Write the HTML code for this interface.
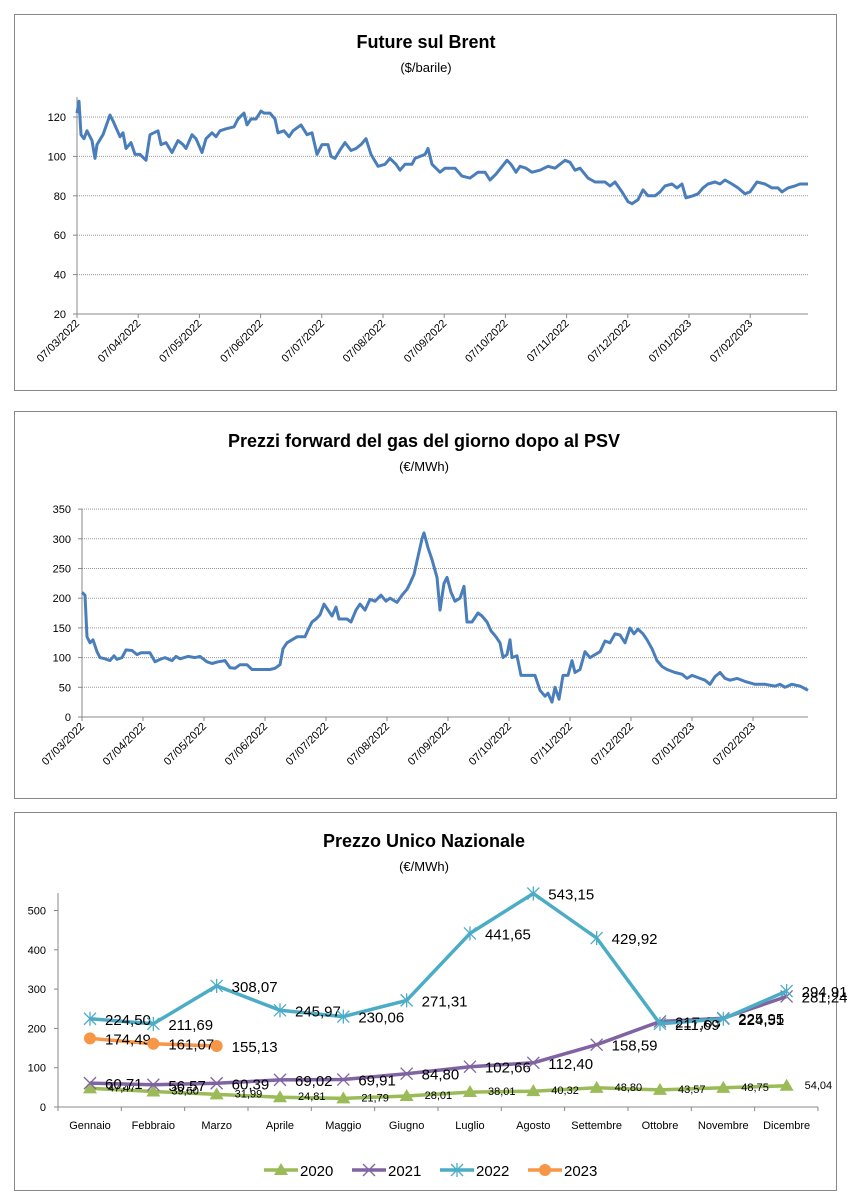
<!DOCTYPE html>
<html><head><meta charset="utf-8"><style>
body{margin:0;background:#fff;width:853px;height:1199px;overflow:hidden;font-family:"Liberation Sans",sans-serif}
svg{position:absolute;left:0;top:0}
</style></head><body>
<svg id="s" width="853" height="1199" font-family="Liberation Sans, sans-serif">
<rect x="14.5" y="14.5" width="822" height="376" fill="#fff" stroke="#888"/>
<rect x="14.5" y="411.5" width="822" height="387" fill="#fff" stroke="#888"/>
<rect x="14.5" y="812.5" width="822" height="378" fill="#fff" stroke="#888"/>
<text x="426" y="48" text-anchor="middle" font-size="18" font-weight="bold">Future sul Brent</text>
<text x="426" y="72" text-anchor="middle" font-size="13">($/barile)</text>
<text x="424" y="447" text-anchor="middle" font-size="18" font-weight="bold">Prezzi forward del gas del giorno dopo  al PSV</text>
<text x="424" y="471" text-anchor="middle" font-size="13">(€/MWh)</text>
<text x="424" y="847" text-anchor="middle" font-size="18" font-weight="bold">Prezzo Unico Nazionale</text>
<text x="424" y="871" text-anchor="middle" font-size="13">(€/MWh)</text>
<g id="g"></g>
</svg>
<script>
var g=document.getElementById('g'),h='';
function L(x1,y1,x2,y2,c,w,d){h+='<line x1="'+x1+'" y1="'+y1+'" x2="'+x2+'" y2="'+y2+'" stroke="'+c+'" stroke-width="'+(w||1)+'"'+(d?' stroke-dasharray="'+d+'"':'')+'/>';}
function T(x,y,t,s,a,r){h+='<text x="'+x+'" y="'+y+'" font-size="'+s+'" text-anchor="'+(a||'start')+'"'+(r?' transform="rotate(-45 '+x+' '+y+')"':'')+'>'+t+'</text>';}
function P(pts,c,w){h+='<polyline fill="none" stroke="'+c+'" stroke-width="'+w+'" stroke-linejoin="round" points="'+pts.join(' ')+'"/>';}
// Chart 1
var y1=function(v){return 314-(v-20)*1.97};
for(var v=20;v<=120;v+=20){if(v>20)L(77,y1(v),808,y1(v),'#999',1,'1 1');T(66,y1(v)+4,v,11,'end');L(73,y1(v),77,y1(v),'#888');}
L(77,97,77,314,'#888');L(77,314,808,314,'#888');
var m1=['07/03/2022','07/04/2022','07/05/2022','07/06/2022','07/07/2022','07/08/2022','07/09/2022','07/10/2022','07/11/2022','07/12/2022','07/01/2023','07/02/2023'];
for(var i=0;i<12;i++){var x=77+i*61.2;L(x,314,x,318,'#888');T(x+3,324,m1[i],11,'end',1);}
var b=[77,122,79,128,81,111,84,109,87,113,92,108,95,99,97,106,103,111,110,121,113,118,120,110,123,112,126,104,131,107,135,101,140,101,146,98,150,111,158,113,161,106,166,107,172,102,178,108,183,106,186,104,192,111,196,109,202,102,206,109,212,112,216,110,220,113,226,114,234,115,238,119,244,122,247,116,251,119,256,119,261,123,264,122,270,122,275,119,278,112,284,113,289,110,293,113,301,116,307,111,312,112,317,101,322,106,328,106,331,100,335,99,341,104,345,107,351,103,356,104,361,106,366,109,371,101,378,95,385,96,390,99,396,96,400,93,405,96,412,96,415,99,420,100,425,101,428,104,432,96,440,92,445,94,455,94,462,90,470,89,478,92,485,92,490,88,496,91,507,98,511,96,516,92,520,95,526,94,532,92,540,93,548,95,555,94,565,98,570,97,575,93,580,94,588,89,595,87,605,87,610,85,615,87,622,82,628,77,632,76,638,78,643,83,648,80,655,80,660,82,665,85,672,86,677,84,682,86,686,79,693,80,698,81,703,84,708,86,715,87,720,86,725,88,732,86,738,84,745,81,750,82,757,87,765,86,772,84,778,84,782,82,788,84,795,85,800,86,808,86];
var p=[];for(i=0;i<b.length;i+=2)p.push(b[i]+','+y1(b[i+1]).toFixed(1));P(p,'#4a7ebb',3);
// Chart 2
var y2=function(v){return 717-v*0.594};
for(v=0;v<=350;v+=50){if(v>0)L(82,y2(v),808,y2(v),'#999',1,'1 1');T(71,y2(v)+4,v,11,'end');L(78,y2(v),82,y2(v),'#888');}
L(82,509,82,717,'#888');L(82,717,808,717,'#888');
for(i=0;i<12;i++){x=82+i*61;L(x,717,x,721,'#888');T(x+3,727,m1[i],11,'end',1);}
var gs=[82,210,85,205,87,135,90,125,93,130,97,110,100,100,105,98,110,95,114,103,117,97,122,100,126,113,132,112,137,105,141,108,150,108,155,93,160,97,165,100,172,95,176,102,180,98,188,102,195,100,200,102,207,93,212,90,218,93,225,95,230,83,235,82,240,88,247,88,252,80,262,80,270,80,275,82,280,88,283,115,287,125,292,130,297,135,305,135,309,150,312,160,316,165,320,172,324,190,328,180,332,170,336,185,339,165,347,165,351,160,356,180,360,190,365,180,370,198,375,195,381,205,386,195,390,200,397,193,402,205,407,215,410,225,414,240,418,270,422,300,424,310,428,285,432,265,437,235,440,180,444,225,447,235,451,210,455,195,460,200,464,220,467,160,472,160,478,175,482,170,487,160,491,145,496,135,500,125,503,100,507,105,510,130,512,100,517,103,521,70,527,70,535,70,540,45,545,35,548,40,552,25,555,50,559,30,563,70,568,70,572,95,575,75,580,80,585,110,590,100,595,105,600,110,605,128,610,125,615,140,620,138,625,125,630,150,634,140,638,148,643,140,647,130,652,115,657,95,662,85,667,80,675,75,682,72,687,65,692,70,700,65,705,62,710,55,715,68,720,75,725,65,730,62,737,65,745,60,755,55,765,55,775,52,780,55,785,50,792,55,800,52,808,45];
p=[];for(i=0;i<gs.length;i+=2)p.push(gs[i]+','+y2(gs[i+1]).toFixed(1));P(p,'#4a7ebb',3);
// Chart 3
var y3=function(v){return 1107-v*0.393};
for(v=0;v<=500;v+=100){T(46,y3(v)+4,v,11,'end');L(54,y3(v),58,y3(v),'#888');}
L(58,893,58,1107,'#888');L(58,1107,818,1107,'#888');
var mo=['Gennaio','Febbraio','Marzo','Aprile','Maggio','Giugno','Luglio','Agosto','Settembre','Ottobre','Novembre','Dicembre'];
for(i=0;i<=12;i++)L(58+i*63.33,1107,58+i*63.33,1111,'#888');
for(i=0;i<12;i++)T(90+i*63.33,1129,mo[i],11,'middle');
var S=[
{c:'#9bbb59',d:[47.47,39.50,31.99,24.81,21.79,28.01,38.01,40.32,48.80,43.57,48.75,54.04],m:'t',fs:11},
{c:'#8064a2',d:[60.71,56.57,60.39,69.02,69.91,84.80,102.66,112.40,158.59,217.63,225.95,281.24],m:'x',fs:15},
{c:'#4bacc6',d:[224.50,211.69,308.07,245.97,230.06,271.31,441.65,543.15,429.92,211.69,224.51,294.91],m:'s',fs:15},
{c:'#f79646',d:[174.49,161.07,155.13],m:'o',fs:15}];
function mk(m,x,y,c){if(m=='t')h+='<polygon points="'+x+','+(y-7)+' '+(x-7)+','+(y+5)+' '+(x+7)+','+(y+5)+'" fill="'+c+'"/>';
else if(m=='o')h+='<circle cx="'+x+'" cy="'+y+'" r="6" fill="'+c+'"/>';
else{L(x-6,y-6,x+6,y+6,c,1.3);L(x-6,y+6,x+6,y-6,c,1.3);if(m=='s')L(x,y-7,x,y+7,c,1.3);}}
S.forEach(function(s){p=[];s.d.forEach(function(v,i){p.push((90+i*63.33).toFixed(1)+','+y3(v).toFixed(1));});P(p,s.c,3.5);
s.d.forEach(function(v,i){var x=90+i*63.33,y=y3(v);mk(s.m,x,y,s.c);T(x+(s.m=='t'?18:15),y+(s.m=='t'?3:6),v.toFixed(2).replace('.',','),s.fs);});});
// legend
var lg=[['2020','#9bbb59','t',264],['2021','#8064a2','x',352],['2022','#4bacc6','s',440],['2023','#f79646','o',528]];
lg.forEach(function(a){L(a[3],1170,a[3]+34,1170,a[1],3.5);mk(a[2],a[3]+17,1170,a[1]);T(a[3]+36,1176,a[0],15);});
g.innerHTML=h;
</script>
</body></html>
